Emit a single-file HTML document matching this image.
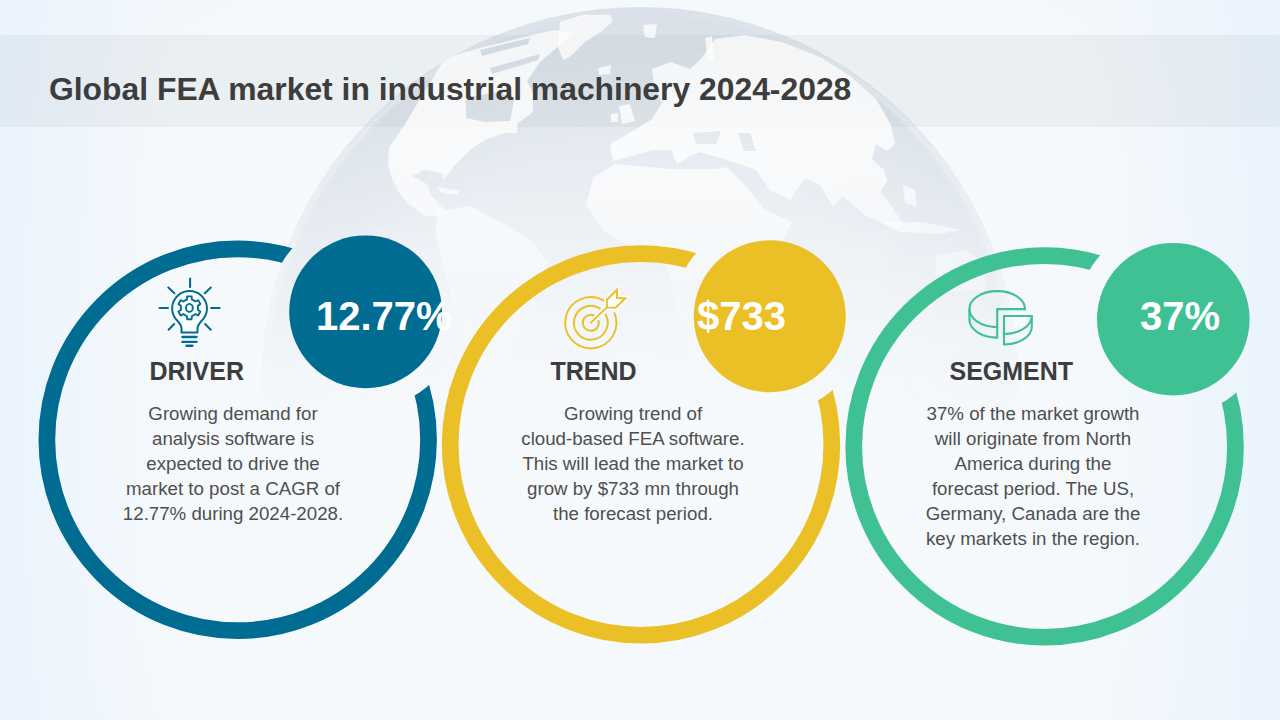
<!DOCTYPE html>
<html>
<head>
<meta charset="utf-8">
<style>
html,body{margin:0;padding:0;}
body{width:1280px;height:720px;overflow:hidden;position:relative;font-family:"Liberation Sans",sans-serif;
background:linear-gradient(90deg,rgba(232,242,253,0.8) 0px,rgba(232,242,253,0) 170px,rgba(232,242,253,0) 1090px,rgba(232,242,253,0.8) 1280px),radial-gradient(ellipse 1000px 700px at 640px 400px,#f7fafd 0%,#f5f9fc 60%,#eff5fc 100%);}
.abs{position:absolute;}
#globe{left:0;top:0;}
#band{left:0;top:35px;width:1280px;height:92px;background:rgba(130,135,140,0.085);}
#title{left:49px;top:72.5px;font-size:31.85px;line-height:32px;font-weight:bold;color:#3d3d3d;white-space:nowrap;}
#art{left:0;top:0;}
.num{font-size:40px;line-height:40px;font-weight:bold;color:#fff;white-space:nowrap;top:296px;}
.hd{font-size:25px;line-height:25px;font-weight:bold;color:#3d3d3d;white-space:nowrap;top:359px;}
.bd{font-size:18.7px;line-height:25px;color:#4f4f4f;text-align:center;width:300px;top:401px;}
</style>
</head>
<body>
<div id="band" class="abs"></div>
<svg id="globe" class="abs" width="1280" height="720" viewBox="0 0 1280 720">
  <defs>
    <linearGradient id="gocean" gradientUnits="userSpaceOnUse" x1="0" y1="7" x2="0" y2="430">
      <stop offset="0" stop-color="#96a5b9" stop-opacity="0.24"/>
      <stop offset="0.07" stop-color="#96a5b9" stop-opacity="0.23"/>
      <stop offset="0.3" stop-color="#96a5b9" stop-opacity="0.18"/>
      <stop offset="0.42" stop-color="#96a5b9" stop-opacity="0.14"/>
      <stop offset="0.58" stop-color="#96a5b9" stop-opacity="0.08"/>
      <stop offset="0.8" stop-color="#96a5b9" stop-opacity="0.03"/>
      <stop offset="1" stop-color="#96a5b9" stop-opacity="0"/>
    </linearGradient>
    <linearGradient id="gland" gradientUnits="userSpaceOnUse" x1="0" y1="7" x2="0" y2="430">
      <stop offset="0" stop-color="#ffffff" stop-opacity="0.72"/>
      <stop offset="0.34" stop-color="#ffffff" stop-opacity="0.8"/>
      <stop offset="0.53" stop-color="#ffffff" stop-opacity="0.55"/>
      <stop offset="0.69" stop-color="#ffffff" stop-opacity="0.25"/>
      <stop offset="0.93" stop-color="#ffffff" stop-opacity="0"/>
    </linearGradient>
    <linearGradient id="grim" gradientUnits="userSpaceOnUse" x1="0" y1="7" x2="0" y2="400">
      <stop offset="0" stop-color="#ffffff" stop-opacity="0"/>
      <stop offset="0.2" stop-color="#ffffff" stop-opacity="0.2"/>
      <stop offset="0.6" stop-color="#ffffff" stop-opacity="0.2"/>
      <stop offset="1" stop-color="#ffffff" stop-opacity="0"/>
    </linearGradient>
    <clipPath id="gclip"><circle cx="640" cy="386" r="379"/></clipPath>
    <radialGradient id="gshade" gradientUnits="userSpaceOnUse" cx="640" cy="386" r="379">
      <stop offset="0" stop-color="#96a5b9" stop-opacity="0"/>
      <stop offset="0.65" stop-color="#96a5b9" stop-opacity="0"/>
      <stop offset="0.97" stop-color="#96a5b9" stop-opacity="0.07"/>
      <stop offset="1" stop-color="#96a5b9" stop-opacity="0.03"/>
    </radialGradient>
    <linearGradient id="gfade" gradientUnits="userSpaceOnUse" x1="0" y1="0" x2="0" y2="430">
      <stop offset="0" stop-color="#fff"/>
      <stop offset="0.5" stop-color="#fff"/>
      <stop offset="1" stop-color="#000"/>
    </linearGradient>
    <mask id="gmask" maskUnits="userSpaceOnUse" x="0" y="0" width="1280" height="720"><rect width="1280" height="720" fill="url(#gfade)"/></mask>
  </defs>
  <circle cx="640" cy="386" r="379" fill="url(#gocean)"/>
  <circle cx="640" cy="386" r="379" fill="url(#gshade)" mask="url(#gmask)"/>
  <circle cx="640" cy="386" r="375" fill="none" stroke="url(#grim)" stroke-width="5"/>
  <g fill="url(#gland)" fill-rule="evenodd" clip-path="url(#gclip)">
    <path d="M445,58 L405,124 L389,148 L388,164 L392,179 L398,191 L407,203 L423,215 L434,217 L448,212 L440,205 L431,195 L428,185 L412,176 L425,170 L442,173 L444,180 L453,167 L472,148 L487,139 L505,133 L517,133 L517,124 L533,112 L533,93 L527,81 L540,62 L560,45 L572,34 L555,30 L520,38 L480,48 L452,56 Z M466,97 L500,92 L514,100 L510,121 L485,122 L466,118 Z M480,50 L530,38 L528,44 L482,56 Z M490,68 L540,54 L538,60 L492,74 Z"/>
    <path d="M437,187 L459,191 L458,195 L440,192 Z"/>
    <path d="M705,38 L712,36 L714,60 L708,62 Z M643,25 L657,24 L655,38 L645,37 Z"/>
    <path d="M560,22 L582,15 L610,15 L613,21 L602,31 L585,42 L571,56 L563,60 L558,47 Z"/>
    <path d="M598,68 L611,65 L610,74 L599,75 Z"/>
    <path d="M611,114 L618,113 L618,122 L611,122 Z M619,106 L630,104 L635,121 L622,124 Z"/>
    <path d="M610,144 L635,130 L652,119 L662,103 L654,83 L652,69 L671,62 L690,69 L700,60 L715,39 L745,35 L782,42 L820,57 L850,76 L876,99 L891,125 L895,144 L887,151 L876,144 L872,159 L884,170 L887,181 L880,192 L887,200 L902,222 L899,230 L880,222 L865,215 L843,196 L833,207 L820,185 L805,178 L790,200 L770,190 L756,170 L727,160 L700,152 L690,156 L677,164 L671,150 L652,150 L632,156 L613,161 Z M693,133 L721,131 L716,144 L696,144 Z M738,133 L750,133 L756,151 L744,151 Z"/>
    <path d="M593,178 L615,164 L671,169 L716,169 L727,167 L745,185 L765,210 L792,222 L780,245 L770,275 L757,300 L745,330 L730,355 L712,372 L695,365 L685,335 L675,300 L668,270 L650,250 L627,245 L605,232 L586,205 Z"/>
    <path d="M437,212 L470,206 L500,222 L530,240 L548,262 L540,295 L522,330 L505,360 L490,395 L478,420 L468,380 L462,340 L452,300 L442,262 L436,235 Z"/>
    <path d="M903,185 L915,190 L917,207 L905,203 Z"/>
    <path d="M880,222 L920,222 L962,230 L940,234 L900,232 Z"/>
    <path d="M936,255 L965,250 L985,262 L985,290 L950,292 L936,275 Z"/>
  </g>
</svg>
<div id="title" class="abs">Global FEA market in industrial machinery 2024-2028</div>

<svg id="art" class="abs" width="1280" height="720" viewBox="0 0 1280 720">
  <defs>
    <mask id="m1" maskUnits="userSpaceOnUse" x="0" y="0" width="1280" height="720"><rect width="1280" height="720" fill="#fff"/><circle cx="365.6" cy="311.75" r="97" fill="#000"/></mask>
    <mask id="m2" maskUnits="userSpaceOnUse" x="0" y="0" width="1280" height="720"><rect width="1280" height="720" fill="#fff"/><circle cx="769.75" cy="316.25" r="97" fill="#000"/></mask>
    <mask id="m3" maskUnits="userSpaceOnUse" x="0" y="0" width="1280" height="720"><rect width="1280" height="720" fill="#fff"/><circle cx="1173.25" cy="319" r="97" fill="#000"/></mask>
  </defs>
  <g fill="none" stroke-width="16.7">
    <circle cx="237.7" cy="439.8" r="190.85" stroke="#006c91" mask="url(#m1)"/>
    <circle cx="641" cy="444.4" r="190.85" stroke="#ebc026" mask="url(#m2)"/>
    <circle cx="1044.6" cy="446.4" r="190.85" stroke="#3fc194" mask="url(#m3)"/>
  </g>
  <circle cx="365.6" cy="311.8" r="76.4" fill="#006c91"/>
  <circle cx="769.75" cy="316.3" r="76" fill="#ebc026"/>
  <circle cx="1173.3" cy="319.2" r="76.3" fill="#3fc194"/>
<!--ICONS--><g id="icons">
<g fill="none" stroke="#006c91" stroke-linecap="round" stroke-linejoin="round">
  <g stroke="#ffffff" stroke-opacity="0.7" stroke-width="4.5"><path d="M 175.30,318.38 A 17.40 17.40 0 1 1 203.80,318.38 C 200.5,322 197.5,325 197.5,328 L 197.5,332.6 L 181.5,332.6 L 181.5,328 C 181.5,325 178.5,322 175.30,318.38 Z"/><path d="M190.1,278.6 L190.1,287.1 M168.3,287.4 L174.4,293.3 M210.8,287.4 L204.8,293.3 M159.5,308 L168,308 M211.2,308 L219.6,308 M168.6,329.7 L174.2,324 M210.7,329.7 L205.1,324"/><path d="M182.4,337 L196.5,337 M182.4,341.9 L196.5,341.9 M186.5,345.8 L192.4,345.8"/></g>
  <path d="M 175.30,318.38 A 17.40 17.40 0 1 1 203.80,318.38 C 200.5,322 197.5,325 197.5,328 L 197.5,332.6 L 181.5,332.6 L 181.5,328 C 181.5,325 178.5,322 175.30,318.38 Z" fill="#ffffff" fill-opacity="0.6" stroke="none"/>
  <path d="M 175.30,318.38 A 17.40 17.40 0 1 1 203.80,318.38 C 200.5,322 197.5,325 197.5,328 L 197.5,332.6 L 181.5,332.6 L 181.5,328 C 181.5,325 178.5,322 175.30,318.38 Z" stroke-width="2.0"/>
  <path d="M 185.10,300.35 L 186.89,299.58 L 187.19,296.41 L 191.61,296.41 L 191.91,299.58 L 193.70,300.35 L 195.27,301.51 L 198.15,300.19 L 200.37,304.02 L 197.78,305.87 L 198.00,307.80 L 197.78,309.73 L 200.37,311.58 L 198.15,315.41 L 195.27,314.09 L 193.70,315.25 L 191.91,316.02 L 191.61,319.19 L 187.19,319.19 L 186.89,316.02 L 185.10,315.25 L 183.53,314.09 L 180.65,315.41 L 178.43,311.58 L 181.02,309.73 L 180.80,307.80 L 181.02,305.87 L 178.43,304.02 L 180.65,300.19 L 183.53,301.51 Z" stroke-width="1.9"/>
  <ellipse cx="189.4" cy="307.9" rx="3.4" ry="4.0" stroke-width="1.9"/>
  <path d="M190.1,278.6 L190.1,287.1 M168.3,287.4 L174.4,293.3 M210.8,287.4 L204.8,293.3 M159.5,308 L168,308 M211.2,308 L219.6,308 M168.6,329.7 L174.2,324 M210.7,329.7 L205.1,324" stroke-width="2.1" stroke-linecap="round"/>
  <path d="M182.4,337 L196.5,337 M182.4,341.9 L196.5,341.9 M186.5,345.8 L192.4,345.8" stroke-width="2.4"/>
</g>
<g fill="none" stroke="#ebc026" stroke-linecap="butt" stroke-linejoin="miter">
  <g stroke="#ffffff" stroke-opacity="0.7" stroke-width="4.5"><path d="M606.9,307.4 L606.9,299.7 L616.9,289.7 L616.9,298 L625.3,298.3 L615.6,307.7 Z"/><path d="M590.8,322.8 L606.9,307.4"/></g>
  <path d="M 614.15,312.31 A 25.60 25.60 0 1 1 604.14,300.95 M 605.24,314.02 A 16.90 16.90 0 1 1 600.61,309.04 M 598.32,320.06 A 8.00 8.00 0 1 1 594.43,315.67" stroke-width="1.95"/>
  <path d="M606.9,307.4 L606.9,299.7 L616.9,289.7 L616.9,298 L625.3,298.3 L615.6,307.7 Z" fill="#ffffff" fill-opacity="0.7" stroke-width="1.95"/>
  <path d="M590.8,322.8 L606.9,307.4" stroke-width="1.95" stroke-linecap="round"/>
</g>
<g fill="none" stroke="#3fc194" stroke-width="2.1" stroke-linejoin="miter">
  <path d="M 1025.00,309.10 A 27.80 18.00 0 1 0 997.20,327.10 L 997.20,309.10 Z"/><path d="M 969.40,309.10 L 969.40,319.60 A 27.80 18.00 0 0 0 997.20,337.60 L 997.20,327.10"/><path d="M 1004.00,316.00 L 1031.80,316.00 A 27.80 18.00 0 0 1 1004.00,334.00 Z"/><path d="M 1031.80,316.00 L 1031.80,326.50 A 27.80 18.00 0 0 1 1004.00,344.50 L 1004.00,334.00"/>
</g>
</g><!--/ICONS-->
</svg>

<div class="abs num" id="n1" style="left:316px">12.77%</div>
<div class="abs num" id="n2" style="left:697px">$733</div>
<div class="abs num" id="n3" style="left:1140px">37%</div>

<div class="abs hd" id="h1" style="left:149.5px">DRIVER</div>
<div class="abs hd" id="h2" style="left:550.5px">TREND</div>
<div class="abs hd" id="h3" style="left:949.5px">SEGMENT</div>

<div class="abs bd" id="b1" style="left:83px">Growing demand for<br>analysis software is<br>expected to drive the<br>market to post a CAGR of<br>12.77% during 2024-2028.</div>
<div class="abs bd" id="b2" style="left:483px">Growing trend of<br>cloud-based FEA software.<br>This will lead the market to<br>grow by $733 mn through<br>the forecast period.</div>
<div class="abs bd" id="b3" style="left:883px">37% of the market growth<br>will originate from North<br>America during the<br>forecast period. The US,<br>Germany, Canada are the<br>key markets in the region.</div>

</body>
</html>
